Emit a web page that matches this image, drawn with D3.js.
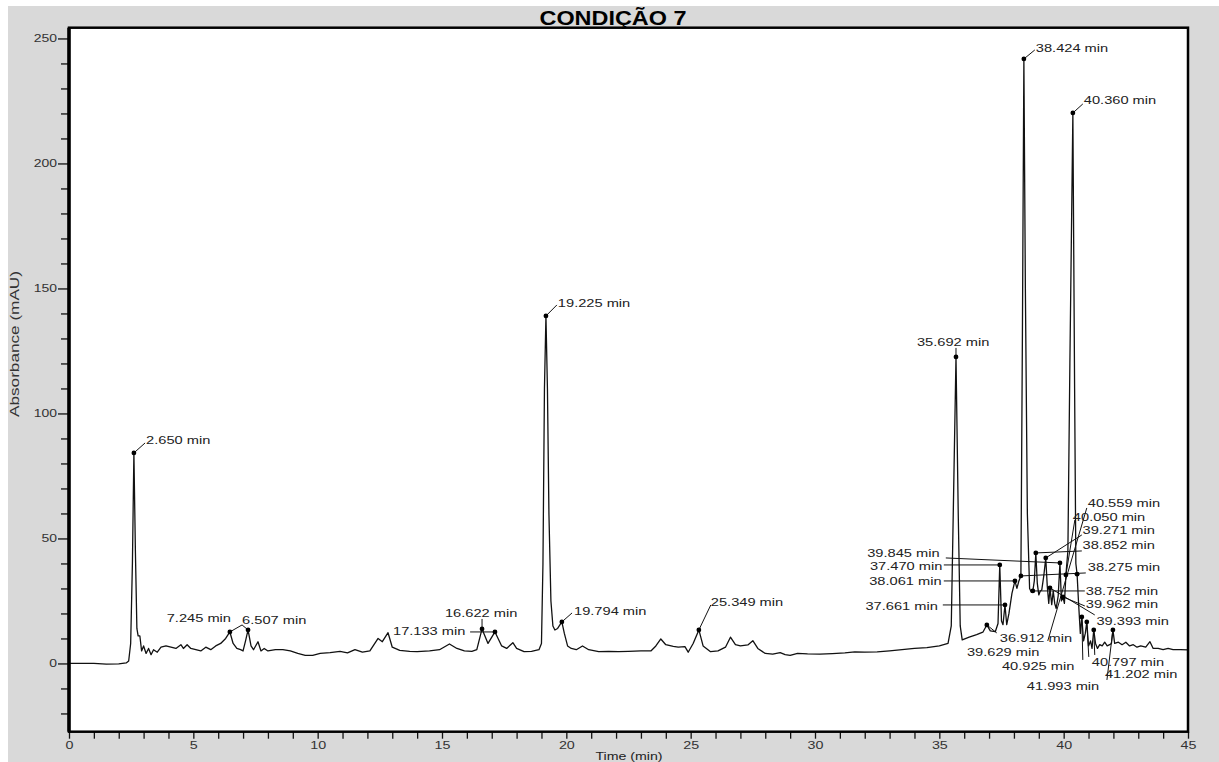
<!DOCTYPE html>
<html><head><meta charset="utf-8">
<script src="https://cdn.jsdelivr.net/npm/d3@7"></script>
<style>
html,body{margin:0;padding:0;background:#fff;}
svg{display:block;font-family:"Liberation Sans",Arial,sans-serif;}
</style></head><body>
<svg id="chart" width="1219" height="762"></svg>
<script>
// ---- Data (time in min, absorbance in mAU) ----
const times = [0,0.5,1.0,1.5,2.0,2.3,2.40,2.48,2.55,2.61,2.67,2.73,2.78,2.85,2.92,3.0,3.1,3.2,3.3,3.4,3.55,3.7,3.9,4.1,4.3,4.5,4.6,4.75,4.9,5.1,5.3,5.5,5.7,5.9,6.1,6.3,6.47,6.6,6.75,6.9,7.0,7.1,7.20,7.32,7.42,7.6,7.72,7.85,8.0,8.3,8.6,8.9,9.2,9.5,9.8,10.1,10.5,10.9,11.2,11.5,11.8,12.1,12.43,12.6,12.83,13.0,13.3,13.7,14.0,14.5,14.9,15.3,15.6,15.9,16.2,16.4,16.61,16.85,17.13,17.4,17.6,17.85,18.0,18.3,18.6,18.9,19.0,19.06,19.12,19.18,19.24,19.30,19.38,19.46,19.54,19.65,19.82,19.92,20.05,20.2,20.4,20.65,20.9,21.3,21.7,22.1,22.5,23.0,23.4,23.6,23.8,24.0,24.3,24.5,24.77,24.9,25.1,25.33,25.5,25.8,26.1,26.4,26.6,26.8,27.0,27.3,27.5,27.7,28.0,28.3,28.6,28.8,29.0,29.3,29.7,30.2,30.7,31.2,31.6,32.0,32.5,33.0,33.5,34.0,34.5,35.0,35.35,35.48,35.56,35.67,35.76,35.84,35.92,36.2,36.5,36.75,36.91,37.05,37.25,37.36,37.43,37.50,37.56,37.64,37.71,37.80,37.92,38.04,38.12,38.20,38.28,38.34,38.40,38.46,38.54,38.63,38.70,38.76,38.82,38.88,38.94,39.00,39.06,39.12,39.20,39.28,39.34,39.40,39.45,39.52,39.58,39.64,39.70,39.78,39.85,39.91,39.97,40.03,40.09,40.17,40.25,40.37,40.44,40.49,40.54,40.60,40.67,40.73,40.80,40.87,40.93,41.00,41.08,41.14,41.21,41.28,41.36,41.45,41.55,41.65,41.75,41.85,41.92,41.98,42.05,42.2,42.35,42.5,42.65,42.8,42.95,43.1,43.3,43.47,43.6,43.8,44.0,44.2,44.4,44.7,45.0];
const values = [0,0,0,-0.3,-0.2,0.2,1,8,40,84.2,45,14,11,11,5,7,4,6,3.5,5.5,4.5,6.5,7,6.5,6,7.5,6,7.5,6,5.5,5,6.5,5.5,7,8,10,12.6,8,6,5.5,5,9,13.4,7,5.5,8.7,5,6,5,5.5,5.5,5,4,3.2,3.2,4,4.3,4.8,4.2,5.5,4.5,5,10,8.7,12.3,6.5,5.2,4.8,4.7,5,5.5,7.8,6,5,4.8,5.5,13.8,8,12.6,7,6,8.3,6,4.7,4.8,5.5,8,40,110,139,110,60,25,15,13.4,14,16.6,12,7,6,5.5,7,5.5,4.7,4.8,4.7,4.8,5,5,7,9.8,7.5,6.8,6.5,6.7,4.5,8,13.4,7,4.7,5,6.5,10.5,7.5,7,7.4,9.1,6,4,3.7,4.3,3.5,3.2,4,3.8,3.7,3.9,4.2,4.6,4.5,4.6,5,5.5,6,6.3,7,8,15,60,122.6,60,15,9.4,10.5,11.5,12.5,15.4,13,12.7,16,39.4,17,15.5,23.4,15.5,20,28,33,30,33,35,130,241.8,150,60,30,28.5,29,33,44.2,32,27.4,29,29.4,35,42.2,31,24,30.2,23.5,29,24,22,27,40.2,25,26.6,24,35.4,45,120,220.2,110,40,35.7,24,12,18.6,9,12,16.6,7,9,6,13.4,8,6,7.5,7,8.5,7,7.5,8,13.4,8,8.5,7.5,8.5,7,7.5,6.5,7,6.5,8.7,6,6,5.5,6,5.5,5.5,5.4];

// marked peaks
const peakTimes  = [2.61,6.47,7.20,16.61,17.13,19.18,19.82,25.33,35.67,36.91,37.43,37.64,38.04,38.28,38.40,38.76,38.88,39.28,39.45,39.85,39.97,40.09,40.37,40.54,40.73,40.93,41.21,41.98];
const peakValues = [84.2,12.6,13.4,13.8,12.6,139,16.6,13.4,122.6,15.4,39.4,23.4,33,35,241.8,29,44.2,42.2,30.2,40.2,26.6,35.4,220.2,35.7,18.6,16.6,13.4,13.4];

// peak labels (left edge time, centre value)
const labelTexts  = ["2.650 min","7.245 min","6.507 min","17.133 min","16.622 min","19.225 min","19.794 min","25.349 min","35.692 min","38.424 min","40.360 min","40.559 min","40.050 min","39.271 min","38.852 min","39.845 min","37.470 min","38.275 min","38.061 min","38.752 min","39.962 min","37.661 min","39.393 min","36.912 min","39.629 min","40.925 min","40.797 min","41.202 min","41.993 min"];
const labelTimes  = [3.10,3.93,6.96,13.03,15.12,19.66,20.31,25.81,34.10,38.88,40.81,40.97,40.37,40.76,40.76,32.10,32.21,40.97,32.18,40.89,40.89,32.03,41.32,37.43,36.11,37.52,41.13,41.66,38.52];
const labelValues = [89.4,18.1,17.4,12.8,20.2,144.2,21.0,24.6,128.4,246.3,225.4,64.1,58.5,53.4,47.4,44.3,39.1,38.5,33.0,29.0,23.8,23.1,17.1,10.1,4.7,-1.0,0.7,-4.2,-9.0];

// leader lines (start time/value -> end time/value)
const leaderT1 = [3.06,6.96,6.96,16.13,16.61,19.62,20.23,25.81,35.67,38.84,40.77,40.93,40.45,40.73,40.73,35.26,35.18,40.89,35.18,40.85,40.85,35.14,41.25,36.91,40.77,41.25,41.74,41.01];
const leaderV1 = [88.2,15.4,15.4,12.6,17.8,143.4,20.2,23.4,126.2,245.4,223.8,62.2,57.4,51.4,45.0,42.2,39.4,36.2,33.0,29.0,23.0,23.4,19.4,15.4,1.4,3.4,-6.6,2.6];
const leaderT2 = [2.61,6.47,7.20,17.13,16.61,19.18,19.82,25.33,35.67,38.40,40.37,39.36,40.09,39.28,38.88,39.85,37.43,38.28,38.04,38.76,39.97,37.64,39.45,37.31,40.73,41.21,41.98,40.93];
const leaderV2 = [84.2,12.6,13.4,12.6,13.8,139,16.6,13.4,122.6,241.8,220.2,9.0,35.4,42.2,44.2,40.2,39.4,35,33,29,26.6,23.4,30.2,12.2,18.6,13.4,13.4,16.6];

const xTicks = d3.range(0, 46, 1);
const xTickLabels = [0,5,10,15,20,25,30,35,40,45];
const yTicks = d3.range(-20, 251, 10);
const yTickLabels = [0,50,100,150,200,250];

const titleText = "CONDIÇÃO 7";
const xTitle = "Time (min)";
const yTitle = "Absorbance (mAU)";

// ---- Drawing ----
const svg = d3.select("#chart");
const L = 69, R = 1188, T = 27.7, B = 731.7;
const x = d3.scaleLinear().domain([0, 45]).range([L, R]);
const y = d3.scaleLinear().domain([-27.3, 254.3]).range([B, T]);

function stretch(sel, r) {
  sel.each(function () {
    const w = this.getComputedTextLength();
    if (w > 0) {
      this.setAttribute("textLength", w * r);
      this.setAttribute("lengthAdjust", "spacingAndGlyphs");
    }
  });
}

svg.append("rect").attr("x", 8).attr("y", 6).attr("width", 1211).attr("height", 756).attr("fill", "#d9d9d9");
svg.append("rect").attr("x", L).attr("y", T).attr("width", R - L).attr("height", B - T).attr("fill", "#fff");

// title
svg.append("text").attr("x", 613).attr("y", 25).attr("text-anchor", "middle")
  .attr("font-size", 19.5).attr("font-weight", "bold").attr("fill", "#000")
  .attr("textLength", 147).attr("lengthAdjust", "spacingAndGlyphs").text(titleText);

const defs = svg.append("defs");
defs.append("clipPath").attr("id", "clip").append("rect")
  .attr("x", L).attr("y", T).attr("width", R - L).attr("height", B - T);

// x axis
const xAxis = svg.append("g").attr("transform", `translate(0,${B})`)
  .call(d3.axisBottom(x).tickValues(xTicks)
    .tickFormat(d => xTickLabels.includes(d) ? String(d) : "")
    .tickSize(7).tickSizeOuter(0).tickPadding(3));
xAxis.select(".domain").remove();
xAxis.selectAll(".tick line").attr("stroke", "#111").attr("stroke-width", 1.3);
xAxis.selectAll("text").attr("font-size", 11).attr("fill", "#333").attr("font-family", "Liberation Sans, Arial, sans-serif");
stretch(xAxis.selectAll("text"), 1.3);

// y axis
const yAxis = svg.append("g").attr("transform", `translate(${L},0)`)
  .call(d3.axisLeft(y).tickValues(yTicks)
    .tickFormat(d => yTickLabels.includes(d) ? String(d) : "")
    .tickSize(9).tickSizeOuter(0).tickPadding(3));
yAxis.select(".domain").remove();
yAxis.selectAll(".tick line").attr("stroke", "#111").attr("stroke-width", 1.3)
  .attr("x2", d => yTickLabels.includes(d) ? -11 : -8);
yAxis.selectAll("text").attr("font-size", 10.5).attr("fill", "#333").attr("font-family", "Liberation Sans, Arial, sans-serif");
stretch(yAxis.selectAll("text"), 1.33);

// axis titles
const xt = svg.append("text").attr("x", 629).attr("y", 759.5).attr("text-anchor", "middle")
  .attr("font-size", 10.5).attr("fill", "#222").text(xTitle);
stretch(xt, 1.35);
svg.append("text").attr("transform", "translate(19,344) rotate(-90)").attr("text-anchor", "middle")
  .attr("font-size", 13.5).attr("fill", "#333")
  .attr("textLength", 146).attr("lengthAdjust", "spacingAndGlyphs").text(yTitle);

// trace
const pts = times.map((t, i) => [t, values[i]]);
svg.append("path").datum(pts).attr("clip-path", "url(#clip)")
  .attr("fill", "none").attr("stroke", "#111").attr("stroke-width", 1.3).attr("stroke-linejoin", "round")
  .attr("d", d3.line().x(d => x(d[0])).y(d => y(d[1])));

// leaders
svg.append("g").selectAll("line").data(leaderT1).join("line")
  .attr("x1", (d, i) => x(d)).attr("y1", (d, i) => y(leaderV1[i]))
  .attr("x2", (d, i) => x(leaderT2[i])).attr("y2", (d, i) => y(leaderV2[i]))
  .attr("stroke", "#111").attr("stroke-width", 1);

// peak markers
svg.append("g").selectAll("circle").data(peakTimes).join("circle")
  .attr("cx", d => x(d)).attr("cy", (d, i) => y(peakValues[i])).attr("r", 2.4).attr("fill", "#000");

// labels
const lbl = svg.append("g").selectAll("text").data(labelTexts).join("text")
  .attr("x", (d, i) => x(labelTimes[i])).attr("y", (d, i) => y(labelValues[i])).attr("dy", "0.36em")
  .attr("font-size", 11).attr("fill", "#222").text(d => d);
stretch(lbl, 1.33);

// frame
svg.append("rect").attr("x", L).attr("y", T).attr("width", R - L).attr("height", B - T)
  .attr("fill", "none").attr("stroke", "#000").attr("stroke-width", 2.5);
svg.append("line").attr("x1", L).attr("x2", L).attr("y1", T).attr("y2", B).attr("stroke", "#000").attr("stroke-width", 3.5);
</script>
</body></html>
